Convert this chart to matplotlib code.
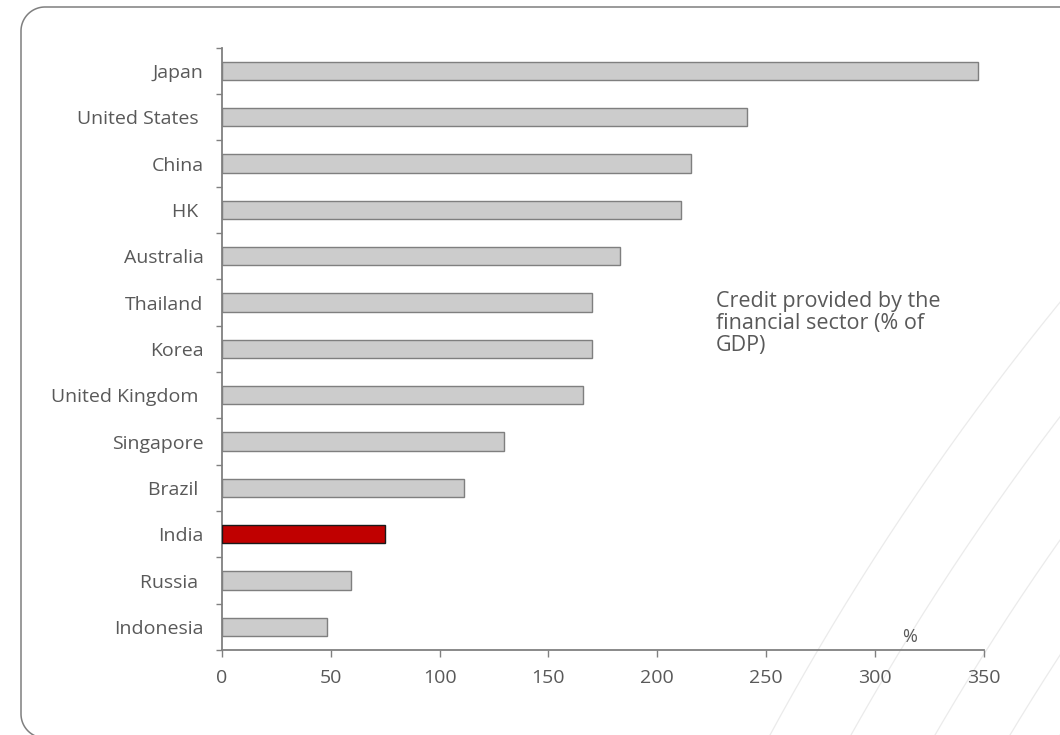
import numpy as np
import matplotlib
matplotlib.use("Agg")
import matplotlib.pyplot as plt

# credit provided by the financial sector, % of GDP
countries = ["Japan", "United States ", "China", "HK ", "Australia", "Thailand",
             "Korea", "United Kingdom ", "Singapore", "Brazil ", "India",
             "Russia ", "Indonesia"]
credit = [347.4, 241.3, 215.6, 210.9, 183.0, 170.2, 170.2, 165.7, 129.6,
          111.4, 74.8, 59.2, 48.2]
highlight = "India"
x_ticks = [0, 50, 100, 150, 200, 250, 300, 350]

plt.rcParams['font.family'] = ['Open Sans', 'DejaVu Sans']
text_col = '#595959'
axis_col = '#808080'

fig = plt.figure(figsize=(10.6, 7.35), dpi=100)

# background layer in pixel units: rounded frame and faint arcs
bg = fig.add_axes([0, 0, 1, 1], zorder=-1)
bg.set_xlim(0, 1060)
bg.set_ylim(735, 0)
bg.axis('off')

x0, y0, y1, rad = 21, 7, 738, 24
a_top = np.linspace(np.pi * 1.5, np.pi, 40)
a_bot = np.linspace(np.pi, np.pi * 0.5, 40)
fx = np.concatenate([[1100], x0 + rad + rad * np.cos(a_top),
                     x0 + rad + rad * np.cos(a_bot), [1100]])
fy = np.concatenate([[y0], y0 + rad + rad * np.sin(a_top),
                     y1 - rad + rad * np.sin(a_bot), [y1]])
bg.plot(fx, fy, color='#7f7f7f', lw=1.1)

cx, cy = 3200, 2050
for x_bottom in [770, 851, 935, 1010, 1060]:
    r = np.hypot(cx - x_bottom, cy - 735)
    t = np.linspace(np.pi * 1.05, np.pi * 1.35, 300)
    bg.plot(cx + r * np.cos(t), cy + r * np.sin(t), color='#ebebeb', lw=0.9)

ax = fig.add_axes([0.2092, 0.1156, 0.7191, 0.8195])
y = np.arange(len(countries))
colors = ['#C00000' if c.strip() == highlight else '#CCCCCC' for c in countries]
edges = ['#1a1a1a' if c.strip() == highlight else '#7f7f7f' for c in countries]
ax.barh(y, credit, height=0.4, color=colors, edgecolor=edges, linewidth=1.0, zorder=3)

ax.set_ylim(len(countries) - 0.5, -0.5)
ax.set_xlim(0, 350)
ax.set_yticks(y)
ax.set_yticklabels(countries)
ax.set_yticks(np.arange(len(countries) + 1) - 0.5, minor=True)
ax.set_xticks(x_ticks)

ax.tick_params(axis='y', which='major', length=0, pad=13, labelsize=14, labelcolor=text_col)
ax.tick_params(axis='y', which='minor', length=4.5, width=1.0, color=axis_col, direction='out')
ax.tick_params(axis='x', length=5, width=1.0, color=axis_col, pad=9, labelsize=14,
               labelcolor=text_col)

for side in ['top', 'right']:
    ax.spines[side].set_visible(False)
for side in ['left', 'bottom']:
    ax.spines[side].set_color(axis_col)
    ax.spines[side].set_linewidth(1.3)
ax.patch.set_alpha(0)

ax.text(227, 5.45, "Credit provided by the\nfinancial sector (% of\nGDP)", ha='left',
        va='center', fontsize=15.5, color=text_col, linespacing=1.08)
ax.text(316, 12.22, "%", ha='center', va='center', fontsize=13, color=text_col)

fig.savefig("out.png", dpi=100)
